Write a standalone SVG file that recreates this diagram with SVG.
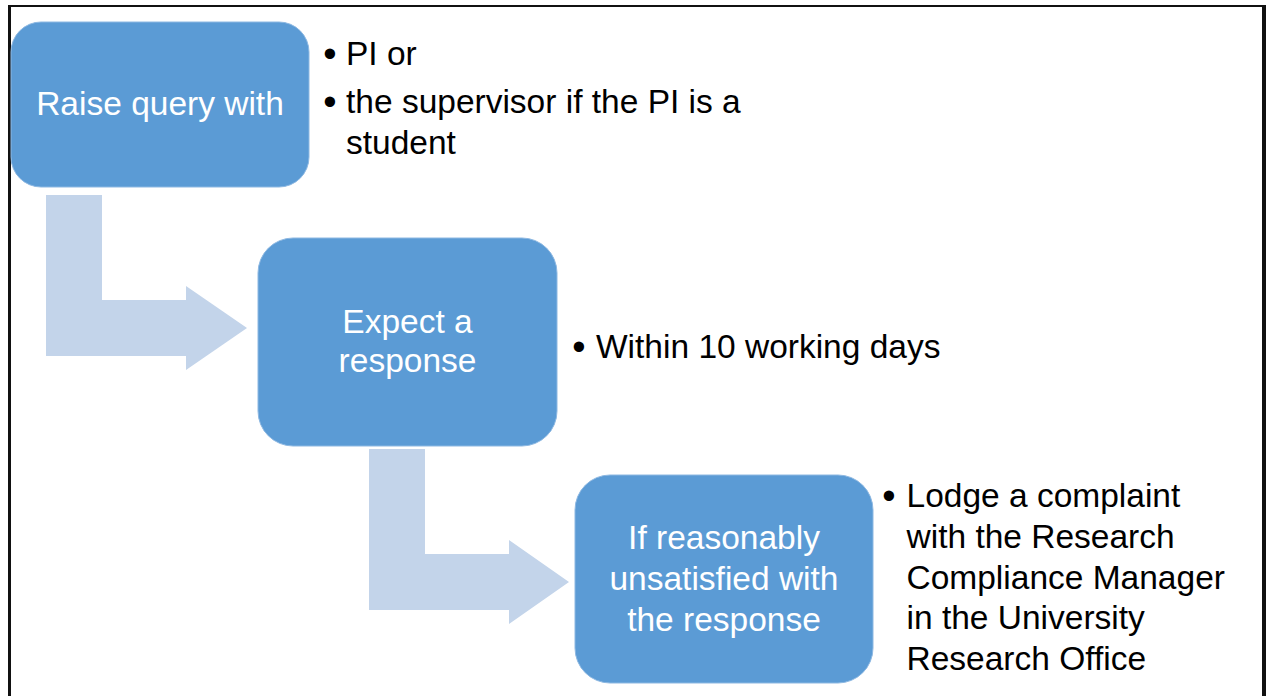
<svg xmlns="http://www.w3.org/2000/svg" width="1267" height="696" viewBox="0 0 1267 696">
  <style>
    .box { fill: #5B9BD5; stroke: #8DB8E2; stroke-width: 1; }
    .arrow { fill: #C3D4EA; }
    .btxt { font-family: "Liberation Sans", Arial, sans-serif; font-size: 33.5px; fill: #FFFFFF; text-anchor: middle; }
    .ttxt { font-family: "Liberation Sans", Arial, sans-serif; font-size: 33.5px; fill: #000000; }
    .bul { font-family: "Liberation Sans", Arial, sans-serif; font-size: 38px; fill: #000000; text-anchor: middle; }
    .frame { fill: #111111; }
  </style>
  <rect x="0" y="0" width="1267" height="696" fill="#FFFFFF"/>
  <rect class="frame" x="8" y="5" width="3" height="700"/>
  <rect class="frame" x="8" y="5" width="1258" height="2"/>
  <rect class="frame" x="1262" y="5" width="4" height="700"/>

  <g id="connectors">
    <polygon id="arrow1" class="arrow" points="46,195 102,195 102,300 186,300 186,286 247,328 186,370 186,356 46,356"/>
    <polygon id="arrow2" class="arrow" points="369,449 425,449 425,554 509,554 509,540 569,582 509,624 509,610 369,610"/>
  </g>

  <g id="node1">
    <rect class="box" x="11" y="22" width="298" height="165" rx="30" ry="30"/>
    <text class="btxt" x="160" y="115">Raise query with</text>
  </g>
  <g id="note1">
    <text class="bul" x="330" y="67">•</text>
    <text class="ttxt" x="346" y="65">PI or</text>
    <text class="bul" x="330" y="115">•</text>
    <text class="ttxt" x="346" y="113">the supervisor if the PI is a</text>
    <text class="ttxt" x="346" y="154">student</text>
  </g>

  <g id="node2">
    <rect class="box" x="258" y="238" width="299" height="208" rx="35" ry="35"/>
    <text class="btxt" x="407.5" y="333">Expect a</text>
    <text class="btxt" x="407.5" y="372">response</text>
  </g>
  <g id="note2">
    <text class="bul" x="579" y="360">•</text>
    <text class="ttxt" x="596" y="358">Within 10 working days</text>
  </g>

  <g id="node3">
    <rect class="box" x="575" y="475" width="298" height="208" rx="35" ry="35"/>
    <text class="btxt" x="724" y="549">If reasonably</text>
    <text class="btxt" x="724" y="590">unsatisfied with</text>
    <text class="btxt" x="724" y="631">the response</text>
  </g>
  <g id="note3">
    <text class="bul" x="889" y="509">•</text>
    <text class="ttxt" x="906.5" y="507">Lodge a complaint</text>
    <text class="ttxt" x="906.5" y="548">with the Research</text>
    <text class="ttxt" x="906.5" y="589">Compliance Manager</text>
    <text class="ttxt" x="906.5" y="629">in the University</text>
    <text class="ttxt" x="906.5" y="670">Research Office</text>
  </g>
</svg>
